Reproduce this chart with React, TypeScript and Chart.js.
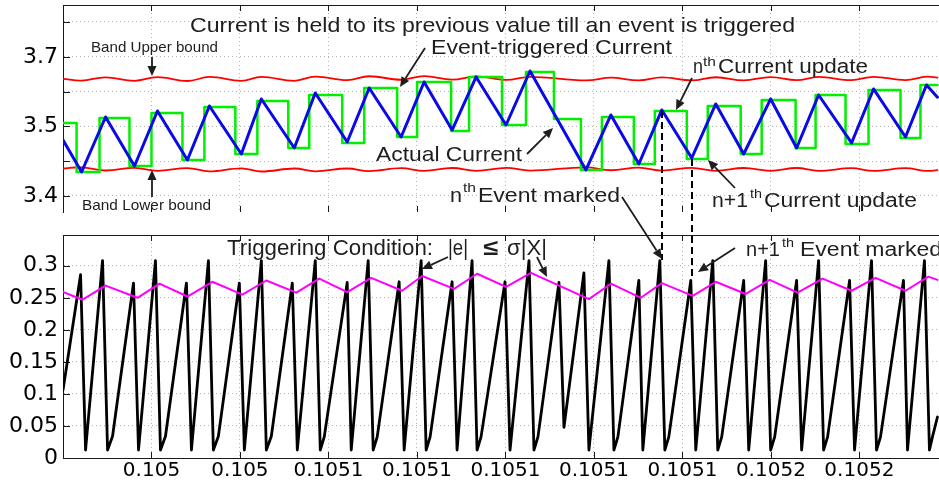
import React, { useEffect, useRef } from 'react';
import { Chart, registerables } from 'chart.js';

Chart.register(...registerables);

// ---------------- data (time in seconds) ----------------
// Actual current (blue)
const currentTime = [
  0.10500000, 0.10500420, 0.10500962, 0.10501616, 0.10502135, 0.10502812, 0.10503309, 0.10504031,
  0.10504483, 0.10505228, 0.10505702, 0.10506424, 0.10506921, 0.10507643, 0.10508162, 0.10508795,
  0.10509337, 0.10510014, 0.10510556, 0.10511820, 0.10512384, 0.10513016, 0.10513535, 0.10514212,
  0.10514754, 0.10515386, 0.10515995, 0.10516582, 0.10517079, 0.10517824, 0.10518320, 0.10519043,
  0.10519517, 0.10519765,
];
const currentValue = [
  3.4805, 3.4345, 3.5135, 3.4431, 3.5221, 3.4517, 3.5293, 3.4603,
  3.5394, 3.4690, 3.5480, 3.4776, 3.5552, 3.4848, 3.5638, 3.4948,
  3.5710, 3.5020, 3.5796, 3.4374, 3.5164, 3.4460, 3.5236, 3.4546,
  3.5322, 3.4603, 3.5394, 3.4690, 3.5451, 3.4762, 3.5538, 3.4848,
  3.5595, 3.5420,
];

// Band bounds (red), sampled at the same instants as the actual current
const bandUpper = [
  3.5683, 3.5658, 3.5705, 3.5655, 3.5708, 3.5652, 3.5710, 3.5655,
  3.5712, 3.5655, 3.5715, 3.5665, 3.5720, 3.5670, 3.5722, 3.5672,
  3.5718, 3.5668, 3.5712, 3.5660, 3.5700, 3.5660, 3.5703, 3.5660,
  3.5706, 3.5662, 3.5708, 3.5665, 3.5710, 3.5665, 3.5712, 3.5666,
  3.5714, 3.5700,
];
const bandLower = [
  3.4395, 3.4412, 3.4366, 3.4405, 3.4362, 3.4400, 3.4355, 3.4398,
  3.4352, 3.4395, 3.4355, 3.4395, 3.4358, 3.4400, 3.4360, 3.4402,
  3.4362, 3.4405, 3.4365, 3.4412, 3.4370, 3.4408, 3.4365, 3.4405,
  3.4362, 3.4402, 3.4360, 3.4402, 3.4360, 3.4400, 3.4360, 3.4400,
  3.4360, 3.4372,
];

// Event-triggered (held) current (green), value held from each event time
const eventTime = [
  0.10500000, 0.10500307, 0.10500826, 0.10501503, 0.10502000, 0.10502700, 0.10503196, 0.10503896,
  0.10504393, 0.10505092, 0.10505566, 0.10506311, 0.10506808, 0.10507553, 0.10508004, 0.10508772,
  0.10509178, 0.10509923, 0.10510465, 0.10511097, 0.10511707, 0.10512181, 0.10512903, 0.10513377,
  0.10514099, 0.10514573, 0.10515318, 0.10515792, 0.10516559, 0.10517011, 0.10517688, 0.10518207,
  0.10518930, 0.10519381, 0.10519765,
];
const heldValue = [
  3.5049, 3.4345, 3.5121, 3.4431, 3.5193, 3.4517, 3.5279, 3.4604,
  3.5365, 3.4690, 3.5451, 3.4762, 3.5552, 3.4848, 3.5638, 3.4934,
  3.5710, 3.5020, 3.5782, 3.5106, 3.4374, 3.5135, 3.4460, 3.5221,
  3.4532, 3.5293, 3.4604, 3.5380, 3.4690, 3.5451, 3.4747, 3.5523,
  3.4833, 3.5595, 3.5595,
];

// |e| (black)
const errorTime = [
  0.10500000, 0.10500397, 0.10500510, 0.10500894, 0.10501007, 0.10501120, 0.10501594, 0.10501707,
  0.10502090, 0.10502203, 0.10502316, 0.10502790, 0.10502903, 0.10503287, 0.10503399, 0.10503512,
  0.10503986, 0.10504099, 0.10504483, 0.10504596, 0.10504709, 0.10505183, 0.10505296, 0.10505702,
  0.10505815, 0.10505905, 0.10506424, 0.10506515, 0.10506898, 0.10507011, 0.10507102, 0.10507598,
  0.10507711, 0.10508095, 0.10508208, 0.10508298, 0.10508795, 0.10508907, 0.10509246, 0.10509359,
  0.10509449, 0.10509991, 0.10510104, 0.10510533, 0.10510645, 0.10510735, 0.10511210, 0.10511323,
  0.10511774, 0.10511887, 0.10512339, 0.10512452, 0.10512542, 0.10513016, 0.10513106, 0.10513490,
  0.10513603, 0.10513693, 0.10514190, 0.10514302, 0.10514686, 0.10514799, 0.10514889, 0.10515386,
  0.10515499, 0.10515882, 0.10515995, 0.10516086, 0.10516582, 0.10516695, 0.10517079, 0.10517192,
  0.10517282, 0.10517779, 0.10517891, 0.10518275, 0.10518388, 0.10518478, 0.10518997, 0.10519088,
  0.10519471, 0.10519584, 0.10519652, 0.10519765,
];
const errorValue = [
  0.106, 0.286, 0.0125, 0.308, 0.0125, 0.034, 0.273, 0.0125,
  0.308, 0.0125, 0.034, 0.273, 0.0125, 0.308, 0.0125, 0.034,
  0.273, 0.0125, 0.308, 0.0125, 0.034, 0.273, 0.0125, 0.308,
  0.0125, 0.033, 0.274, 0.0125, 0.308, 0.0125, 0.033, 0.275,
  0.0125, 0.308, 0.0125, 0.033, 0.275, 0.0125, 0.308, 0.0125,
  0.033, 0.275, 0.0125, 0.308, 0.0125, 0.033, 0.274, 0.048,
  0.289, 0.0125, 0.308, 0.0125, 0.033, 0.277, 0.0125, 0.308,
  0.0125, 0.033, 0.277, 0.0125, 0.308, 0.0125, 0.033, 0.277,
  0.0125, 0.308, 0.0125, 0.033, 0.277, 0.0125, 0.308, 0.0125,
  0.033, 0.277, 0.0125, 0.308, 0.0125, 0.033, 0.277, 0.0125,
  0.308, 0.0125, 0.033, 0.064,
];

// sigma|X| (magenta)
const thresholdTime = [
  0.10500000, 0.10500443, 0.10500962, 0.10501684, 0.10502181, 0.10502812, 0.10503377, 0.10504054,
  0.10504596, 0.10505273, 0.10505792, 0.10506424, 0.10506966, 0.10507666, 0.10508117, 0.10508840,
  0.10509359, 0.10510014, 0.10510578, 0.10511887, 0.10512384, 0.10513061, 0.10513535, 0.10514235,
  0.10514754, 0.10515431, 0.10515972, 0.10516604, 0.10517169, 0.10517824, 0.10518365, 0.10519043,
  0.10519562, 0.10519765,
];
const thresholdValue = [
  0.259, 0.247, 0.269, 0.250, 0.272, 0.252, 0.275, 0.255,
  0.277, 0.258, 0.280, 0.259, 0.281, 0.261, 0.284, 0.264,
  0.2875, 0.267, 0.289, 0.248, 0.272, 0.250, 0.273, 0.253,
  0.275, 0.256, 0.278, 0.258, 0.280, 0.261, 0.281, 0.261,
  0.283, 0.278,
];

// axes
const X_MIN = 0.105;
const X_MAX = 0.105198;
const X_STEP = 0.00002;
const TOP_Y_MIN = 3.377;
const TOP_Y_MAX = 3.6744;
const TOP_Y_STEP = 0.05;
const topYTickLabels: Record<string, string> = { '3.40': '3.4', '3.50': '3.5', '3.60': '3.7' };
const BOT_Y_MIN = 0;
const BOT_Y_MAX = 0.348;
const BOT_Y_STEP = 0.05;

// ---------------- layout / style ----------------
const W = 939;
const H = 484;
const LEFT = 63;
const TOP_AREA_TOP = 5;
const TOP_AREA_BOTTOM = 212;
const BOT_AREA_TOP = 235;
const BOT_AREA_BOTTOM = 458;
const AXIS = '#1a1a1a';
const GRID = '#b4b4b4';
const TEXT = '#1e1e1e';
const X_TICK_FONT = { family: '"DejaVu Sans", "Liberation Sans", Arial, sans-serif', size: 20 };
const Y_TICK_FONT = { family: '"DejaVu Sans", "Liberation Sans", Arial, sans-serif', size: 22 };
const ANN_FONT = '"Liberation Sans", Arial, Helvetica, sans-serif';

type Piece = { text: string; x: number; y: number; size: number; w: number; bold?: boolean };
type Arrow = [number, number, number, number];

const topTexts: Piece[] = [
  { text: 'Current is held to its previous value till an event is triggered', x: 190, y: 32, size: 21, w: 605 },
  { text: 'Event-triggered Current', x: 431, y: 54, size: 21, w: 241 },
  { text: 'Band Upper bound', x: 91, y: 52, size: 15, w: 127 },
  { text: 'Band Lower bound', x: 82, y: 210, size: 15, w: 129 },
  { text: 'Actual Current', x: 376, y: 161, size: 21, w: 146 },
  { text: 'n', x: 693, y: 73, size: 20, w: 10 },
  { text: 'th', x: 703, y: 66, size: 12, w: 13 },
  { text: 'Current update', x: 718, y: 73, size: 20, w: 150 },
  { text: 'n+1', x: 712, y: 207, size: 20, w: 36 },
  { text: 'th', x: 750, y: 198, size: 12, w: 12 },
  { text: 'Current update', x: 764, y: 207, size: 20, w: 153 },
  { text: 'n', x: 450, y: 202, size: 21, w: 12 },
  { text: 'th', x: 463, y: 192, size: 12, w: 13 },
  { text: 'Event marked', x: 478, y: 202, size: 21, w: 142 },
];
const topArrows: Arrow[] = [
  [152, 57, 152, 76],
  [152, 197, 152, 170],
  [425, 48, 400, 87],
  [527, 154, 553, 128],
  [692, 78, 676, 110],
  [735, 188, 708, 160],
];
const botTexts: Piece[] = [
  { text: 'Triggering Condition:', x: 227, y: 255, size: 22, w: 206 },
  { text: '|e|', x: 448, y: 255, size: 22, w: 20 },
  { text: '\u2264', x: 483, y: 255, size: 22, w: 15, bold: true },
  { text: '\u03C3|X|', x: 507, y: 255, size: 22, w: 40 },
  { text: 'n+1', x: 746, y: 256, size: 20, w: 34 },
  { text: 'th', x: 782, y: 247, size: 12, w: 12 },
  { text: 'Event marked', x: 800, y: 256, size: 20, w: 142 },
];
const botArrows: Arrow[] = [
  [622, 197, 662, 259],
  [448, 257, 422, 269],
  [537, 257, 547, 277],
  [735, 248, 698, 272],
];
const dashedLines: Arrow[] = [
  [662, 111, 662, 260],
  [692, 159, 692, 277],
];

function drawPiece(ctx: CanvasRenderingContext2D, p: Piece) {
  ctx.save();
  ctx.font = `${p.bold ? 'bold ' : ''}${p.size}px ${ANN_FONT}`;
  const m = ctx.measureText(p.text).width || 1;
  ctx.translate(p.x, p.y);
  ctx.scale(p.w / m, 1);
  ctx.fillStyle = TEXT;
  ctx.textAlign = 'left';
  ctx.textBaseline = 'alphabetic';
  ctx.fillText(p.text, 0, 0);
  ctx.restore();
}

function drawArrow(ctx: CanvasRenderingContext2D, a: Arrow) {
  const [x1, y1, x2, y2] = a;
  const ang = Math.atan2(y2 - y1, x2 - x1);
  const len = 10;
  const half = 4.5;
  const bx = x2 - len * Math.cos(ang);
  const by = y2 - len * Math.sin(ang);
  ctx.save();
  ctx.strokeStyle = TEXT;
  ctx.fillStyle = TEXT;
  ctx.lineWidth = 1.8;
  ctx.beginPath();
  ctx.moveTo(x1, y1);
  ctx.lineTo(bx, by);
  ctx.stroke();
  ctx.beginPath();
  ctx.moveTo(x2, y2);
  ctx.lineTo(bx + half * Math.sin(ang), by - half * Math.cos(ang));
  ctx.lineTo(bx - half * Math.sin(ang), by + half * Math.cos(ang));
  ctx.closePath();
  ctx.fill();
  ctx.restore();
}

function framePlugin(id: string) {
  return {
    id,
    beforeDatasetsDraw(chart: any) {
      const { ctx, chartArea: a, scales } = chart;
      ctx.save();
      ctx.strokeStyle = AXIS;
      ctx.lineWidth = 1;
      ctx.beginPath();
      ctx.moveTo(a.left, a.top + 0.5);
      ctx.lineTo(a.right, a.top + 0.5);
      for (const t of scales.x.ticks) {
        const px = Math.round(scales.x.getPixelForValue(t.value)) + 0.5;
        if (px <= a.left + 2) continue;
        ctx.moveTo(px, a.top);
        ctx.lineTo(px, a.top + 6);
        ctx.moveTo(px, a.bottom);
        ctx.lineTo(px, a.bottom - 6);
      }
      for (const t of scales.y.ticks) {
        const py = Math.round(scales.y.getPixelForValue(t.value)) + 0.5;
        ctx.moveTo(a.left, py);
        ctx.lineTo(a.left + 7, py);
      }
      ctx.stroke();
      ctx.restore();
    },
  };
}

function annotationPlugin(id: string, texts: Piece[], arrows: Arrow[], dashes: Arrow[]) {
  return {
    id,
    afterDraw(chart: any) {
      const ctx: CanvasRenderingContext2D = chart.ctx;
      ctx.save();
      ctx.strokeStyle = '#000000';
      ctx.lineWidth = 2;
      ctx.setLineDash([7, 4]);
      for (const [x1, y1, x2, y2] of dashes) {
        ctx.beginPath();
        ctx.moveTo(x1, y1);
        ctx.lineTo(x2, y2);
        ctx.stroke();
      }
      ctx.restore();
      for (const p of texts) drawPiece(ctx, p);
      for (const a of arrows) drawArrow(ctx, a);
    },
  };
}

function zeroPad(s: any) {
  s.paddingLeft = 0;
  s.paddingRight = 0;
  s.paddingTop = 0;
  s.paddingBottom = 0;
}

function xLabel(v: number) {
  if (v < X_MIN + 1e-9) return '';
  return parseFloat(Number(v).toPrecision(4)).toString();
}

function pts(xs: number[], ys: number[]) {
  return xs.map((x, i) => ({ x, y: ys[i] }));
}

function xScale(showLabels: boolean, showBorder: boolean, height: number) {
  return {
    type: 'linear',
    min: X_MIN,
    max: X_MAX,
    ticks: {
      display: showLabels,
      stepSize: X_STEP,
      includeBounds: false,
      callback: (v: number) => xLabel(v),
      font: X_TICK_FONT,
      color: '#000',
      padding: 1,
      maxRotation: 0,
      autoSkip: false,
    },
    grid: { color: GRID, lineWidth: 1, drawTicks: false },
    border: { display: showBorder, color: AXIS, width: 1, dash: [1, 3] },
    afterFit: (s: any) => {
      s.height = height;
      zeroPad(s);
    },
  };
}

function yScale(min: number, max: number, step: number, cb: (v: number) => string) {
  return {
    min,
    max,
    ticks: {
      stepSize: step,
      includeBounds: false,
      callback: (v: number) => cb(v),
      font: Y_TICK_FONT,
      color: '#000',
      padding: 5,
      autoSkip: false,
    },
    grid: { color: GRID, lineWidth: 1, drawTicks: false },
    border: { display: true, color: AXIS, width: 1, dash: [1, 3] },
    afterFit: (s: any) => {
      s.width = LEFT;
      zeroPad(s);
    },
  };
}

const baseLine = { pointRadius: 0, pointHoverRadius: 0, fill: false, tension: 0, borderJoinStyle: 'round', borderCapStyle: 'round' };

export default function App() {
  const topRef = useRef<HTMLCanvasElement>(null);
  const botRef = useRef<HTMLCanvasElement>(null);

  useEffect(() => {
    const topChart = new Chart(topRef.current as HTMLCanvasElement, {
      type: 'line',
      data: {
        datasets: [
          { ...baseLine, label: 'Actual Current', data: pts(currentTime, currentValue), borderColor: '#0a0ae6', borderWidth: 3 },
          { ...baseLine, label: 'Event-triggered Current', data: pts(eventTime, heldValue), borderColor: '#00f000', borderWidth: 2.5, stepped: 'before' },
          { ...baseLine, label: 'Band Upper bound', data: pts(currentTime, bandUpper), borderColor: '#ff0000', borderWidth: 1.8, tension: 0.4 },
          { ...baseLine, label: 'Band Lower bound', data: pts(currentTime, bandLower), borderColor: '#ff0000', borderWidth: 1.8, tension: 0.4 },
        ],
      } as any,
      options: {
        responsive: false,
        animation: false,
        events: [],
        layout: { padding: { top: TOP_AREA_TOP, left: 0, right: 0, bottom: 0 } },
        plugins: { legend: { display: false }, tooltip: { enabled: false } },
        scales: {
          x: xScale(false, false, H - TOP_AREA_BOTTOM),
          y: yScale(TOP_Y_MIN, TOP_Y_MAX, TOP_Y_STEP, (v) => topYTickLabels[Number(v).toFixed(2)] ?? ''),
        },
      } as any,
      plugins: [framePlugin('frameTop'), annotationPlugin('annTop', topTexts, topArrows, [])],
    });

    const botChart = new Chart(botRef.current as HTMLCanvasElement, {
      type: 'line',
      data: {
        datasets: [
          { ...baseLine, label: '\u03C3|X|', data: pts(thresholdTime, thresholdValue), borderColor: '#ff00ff', borderWidth: 2 },
          { ...baseLine, label: '|e|', data: pts(errorTime, errorValue), borderColor: '#000000', borderWidth: 2.8 },
        ],
      } as any,
      options: {
        responsive: false,
        animation: false,
        events: [],
        layout: { padding: { top: BOT_AREA_TOP, left: 0, right: 0, bottom: 0 } },
        plugins: { legend: { display: false }, tooltip: { enabled: false } },
        scales: {
          x: xScale(true, true, H - BOT_AREA_BOTTOM),
          y: yScale(BOT_Y_MIN, BOT_Y_MAX, BOT_Y_STEP, (v) => parseFloat(Number(v).toFixed(2)).toString()),
        },
      } as any,
      plugins: [framePlugin('frameBot'), annotationPlugin('annBot', botTexts, botArrows, dashedLines)],
    });

    return () => {
      topChart.destroy();
      botChart.destroy();
    };
  }, []);

  return (
    <div style={{ position: 'fixed', left: 0, top: 0, width: W, height: H, background: '#ffffff', overflow: 'hidden' }}>
      <canvas ref={topRef} width={W} height={H} style={{ position: 'absolute', left: 0, top: 0, width: W, height: H }} />
      <canvas ref={botRef} width={W} height={H} style={{ position: 'absolute', left: 0, top: 0, width: W, height: H }} />
    </div>
  );
}
